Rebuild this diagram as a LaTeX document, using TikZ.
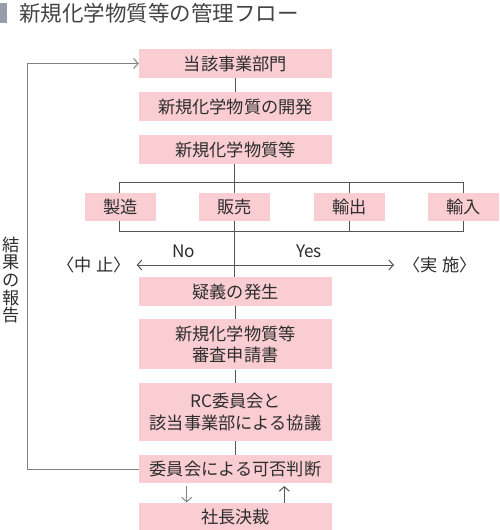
\documentclass[tikz,border=0pt]{standalone}
\usepackage{fontspec}
\setmainfont{Noto Sans CJK JP}
\usetikzlibrary{arrows.meta,backgrounds}
\definecolor{boxpink}{RGB}{249,205,210}
\definecolor{txt}{RGB}{45,45,45}
\definecolor{lineA}{RGB}{85,85,85}
\definecolor{lineB}{RGB}{130,130,130}
\definecolor{barc}{RGB}{150,158,172}
\tikzset{
  mbox/.style={fill=boxpink, text=txt, minimum width=193pt, inner sep=0pt, align=center,
    font=\fontsize{17.2}{21.5}\selectfont},
  sbox/.style={fill=boxpink, text=txt, minimum width=71pt, minimum height=28.5pt, inner sep=0pt,
    font=\fontsize{17.2}{21.5}\selectfont},
  lbl/.style={text=txt, inner sep=0pt, font=\fontsize{17.2}{21.5}\selectfont},
  conn/.style={draw=lineA, line width=0.8pt},
  loopl/.style={draw=lineB, line width=0.9pt},
  tip/.style={-{Straight Barb[length=4.5pt,width=10pt,line width=1pt]}},
  tips/.style={{Straight Barb[length=4.5pt,width=10pt,line width=1pt]}-{Straight Barb[length=4.5pt,width=10pt,line width=1pt]}}
}
\begin{document}
\begin{tikzpicture}[x=1pt,y=-1pt]
\useasboundingbox (0,0) rectangle (500,530);
% title
\fill[barc] (0,3) rectangle (7,23);
\node[anchor=west, text={rgb,255:red,68;green,68;blue,68}, inner sep=0pt,
  font=\fontsize{21.5}{25}\selectfont] (title) at (19,13) {新規化学物質等の管理フロー};
% main boxes
\node[mbox, minimum height=28.5pt] (tj) at (235.5,63.5) {当該事業部門};
\node[mbox, minimum height=28.7pt] (kh) at (235.5,106.7) {新規化学物質の開発};
\node[mbox, minimum height=29pt] (ks) at (235.5,149.5) {新規化学物質等};
\node[sbox] (sz) at (120.5,207) {製造};
\node[sbox] (hb) at (234.7,207) {販売};
\node[sbox] (ys) at (349.2,207) {輸出};
\node[sbox] (yn) at (463.5,207) {輸入};
\node[mbox, minimum height=28.7pt] (gg) at (235.5,291.7) {疑義の発生};
\node[mbox, minimum height=50pt] (ss) at (235.5,344.3) {新規化学物質等\\審査申請書};
\node[mbox, minimum height=57.7pt] (rc) at (235.5,412.2) {RC委員会と\\該当事業部による協議};
\node[mbox, minimum height=28.3pt] (kk) at (235.5,469.2) {委員会による可否判断};
\node[mbox, minimum height=28pt] (sc) at (235.5,516.7) {社長決裁};
% labels
\node[lbl] (no) at (183.5,251) {No};
\node[lbl] (yes) at (309,251) {Yes};
\node[lbl] (stop) at (94,264.5) {〈中\hspace{5pt}止〉};
\node[lbl] (go) at (440,264.5) {〈実\hspace{5pt}施〉};
\node[lbl, align=center, font=\fontsize{17.2}{17.6}\selectfont] (kh2) at (11.5,280) {結\\果\\の\\報\\告};
% coordinates
\coordinate (bTL) at (119.3,182.7);
\coordinate (bBR) at (463.3,231.7);
\coordinate (bM) at (349.3,182.7);
\coordinate (nL) at (136.7,265);
\coordinate (nR) at (394,265);
\coordinate (lp) at (27.7,469.2);
\begin{scope}[on background layer]
  \draw[conn] (tj.south) -- (kh.north);
  \draw[conn] (ks.south -| hb) -- (gg.north -| hb);
  \draw[conn] (bTL) rectangle (bBR);
  \draw[conn] (bM) -- (bM |- bBR);
  \draw[conn] (gg.south) -- (ss.north);
  \draw[conn] (ss.south) -- (rc.north);
  \draw[conn] (rc.south) -- (kk.north);
\end{scope}
\draw[conn, tips] (nL) -- (nR);
\draw[loopl, tip] (kk.west) -- (lp) |- (tj.west);
\draw[loopl, tip, shorten <=2.5pt] ([xshift=-48.8pt]kk.south) -- ([xshift=-48.8pt]sc.north);
\draw[conn, tip, shorten >=2.5pt] ([xshift=48.8pt]sc.north) -- ([xshift=48.8pt]kk.south);
\end{tikzpicture}
\end{document}
